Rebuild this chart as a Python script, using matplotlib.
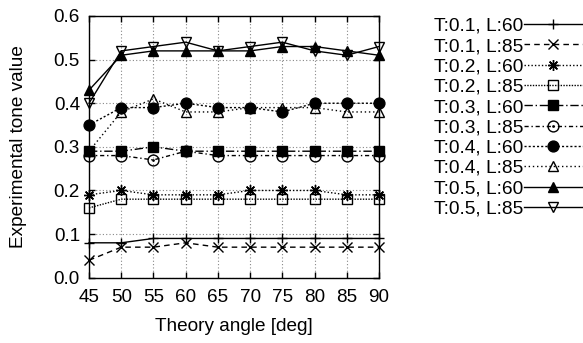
import matplotlib
matplotlib.use("Agg")
import matplotlib.pyplot as plt
from matplotlib.path import Path
import numpy as np

plt.rcParams['font.family'] = ['Liberation Sans', 'DejaVu Sans']

angles = [45, 50, 55, 60, 65, 70, 75, 80, 85, 90]
t01_l60 = [0.08, 0.08, 0.09, 0.09, 0.09, 0.09, 0.09, 0.09, 0.09, 0.09]
t01_l85 = [0.04, 0.07, 0.07, 0.08, 0.07, 0.07, 0.07, 0.07, 0.07, 0.07]
t02_l60 = [0.19, 0.20, 0.19, 0.19, 0.19, 0.20, 0.20, 0.20, 0.19, 0.19]
t02_l85 = [0.16, 0.18, 0.18, 0.18, 0.18, 0.18, 0.18, 0.18, 0.18, 0.18]
t03_l60 = [0.29, 0.29, 0.30, 0.29, 0.29, 0.29, 0.29, 0.29, 0.29, 0.29]
t03_l85 = [0.28, 0.28, 0.27, 0.29, 0.28, 0.28, 0.28, 0.28, 0.28, 0.28]
t04_l60 = [0.35, 0.39, 0.39, 0.40, 0.39, 0.39, 0.38, 0.40, 0.40, 0.40]
t04_l85 = [0.29, 0.38, 0.41, 0.38, 0.38, 0.39, 0.39, 0.39, 0.38, 0.38]
t05_l60 = [0.43, 0.51, 0.52, 0.52, 0.52, 0.52, 0.53, 0.53, 0.52, 0.51]
t05_l85 = [0.40, 0.52, 0.53, 0.54, 0.52, 0.53, 0.54, 0.52, 0.51, 0.53]

labels = ["T:0.1, L:60", "T:0.1, L:85", "T:0.2, L:60", "T:0.2, L:85",
          "T:0.3, L:60", "T:0.3, L:85", "T:0.4, L:60", "T:0.4, L:85",
          "T:0.5, L:60", "T:0.5, L:85"]
series = [t01_l60, t01_l85, t02_l60, t02_l85, t03_l60, t03_l85,
          t04_l60, t04_l85, t05_l60, t05_l85]

xticks = [45, 50, 55, 60, 65, 70, 75, 80, 85, 90]
yticks = [0.0, 0.1, 0.2, 0.3, 0.4, 0.5, 0.6]

# circle with centre dot marker
big = Path.circle((0, 0), 1.0)
small = Path.circle((0, 0), 0.12)
dotcircle = Path.make_compound_path(big, small)

styles = [
    dict(marker='+', ls='-', mfc='none'),
    dict(marker='x', ls=(0, (4, 3)), mfc='none'),
    dict(marker=(8, 2, 0), ls=(0, (1, 1.5)), mfc='none'),
    dict(marker='s', ls=(0, (1, 1)), mfc='none'),
    dict(marker='s', ls=(0, (6, 2, 1, 2)), mfc='black'),
    dict(marker=dotcircle, ls=(0, (3, 2, 1, 2)), mfc='none'),
    dict(marker='o', ls=(0, (1.5, 1.5)), mfc='black'),
    dict(marker='^', ls=(0, (1, 2)), mfc='none'),
    dict(marker='^', ls='-', mfc='black'),
    dict(marker='v', ls='-', mfc='none'),
]

fig = plt.figure(figsize=(5.83, 3.43), dpi=100)
ax = fig.add_axes([89 / 583, 1 - 277.7 / 343, 290 / 583, 261.7 / 343])

for lab, ys, st in zip(labels, series, styles):
    ax.plot(angles, ys, color='black', lw=1.0, linestyle=st['ls'],
            marker=st['marker'], markersize=7.8, markerfacecolor=st['mfc'],
            markeredgecolor='black', markeredgewidth=1.0, label=lab,
            clip_on=False, zorder=3)

ax.set_xlim(45, 90)
ax.set_ylim(0.0, 0.6)
ax.set_xticks(xticks)
ax.set_yticks(yticks)
ax.set_yticklabels([f"{v:.1f}" for v in yticks])
ax.grid(True, color='#888888', linestyle=(0, (1, 2)), linewidth=0.8, zorder=0)
ax.tick_params(direction='in', length=4, width=1.0, top=True, right=True,
               labelsize=13.6)
ax.tick_params(axis='x', pad=8.0)
ax.tick_params(axis='y', pad=6.5)
for sp in ax.spines.values():
    sp.set_linewidth(1.0)
    sp.set_color('black')

ax.set_xlabel("Theory angle [deg]", fontsize=13.7)
ax.set_ylabel("Experimental tone value", fontsize=13.7)
ax.xaxis.set_label_coords(0.5, -0.155)
ax.yaxis.set_label_coords(-0.215, 0.5)

leg = fig.legend(loc='upper right', bbox_to_anchor=(1.0, 1 - 17.5 / 343),
                 bbox_transform=fig.transFigure, frameon=False,
                 markerfirst=False, handlelength=3.1, handletextpad=0.0,
                 borderpad=0.0, borderaxespad=0.0, labelspacing=0.15,
                 fontsize=13.8)

fig.savefig("out.png", dpi=100)
